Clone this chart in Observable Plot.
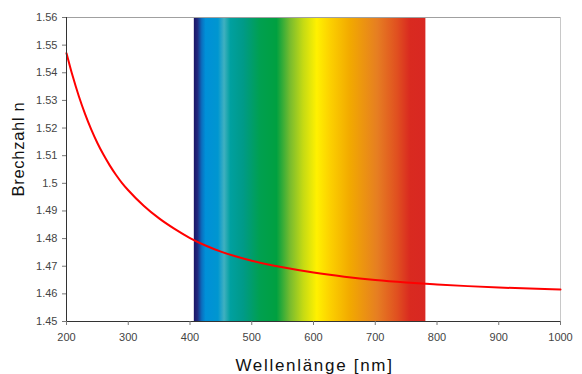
<!DOCTYPE html>
<html>
<head>
<meta charset="utf-8">
<script src="https://cdn.jsdelivr.net/npm/d3@7"></script>
<script src="https://cdn.jsdelivr.net/npm/@observablehq/plot@0.6"></script>
<style>
  html, body { margin: 0; padding: 0; background: #fff; }
  svg { display: block; }
</style>
</head>
<body>
<div id="chart"></div>
<script>
// Wavelength (nm) and refractive index
const wavelengths = [200, 210, 220, 230, 240, 250, 260, 270, 280, 290, 300, 325, 350, 375, 400, 425, 450, 475, 500, 550, 600, 650, 700, 750, 800, 850, 900, 950, 1000];
const indices = [1.5471, 1.5388, 1.5315, 1.5251, 1.5195, 1.5146, 1.5103, 1.5065, 1.5031, 1.5001, 1.4975, 1.4919, 1.4873, 1.4835, 1.4802, 1.4775, 1.4753, 1.4735, 1.4720, 1.4696, 1.4677, 1.4662, 1.4650, 1.4641, 1.4634, 1.4628, 1.4623, 1.4619, 1.4616];

const xTicks = [200, 300, 400, 500, 600, 700, 800, 900, 1000];
const yTicks = [1.45, 1.46, 1.47, 1.48, 1.49, 1.5, 1.51, 1.52, 1.53, 1.54, 1.55, 1.56];
const yTickLabels = ["1.45", "1.46", "1.47", "1.48", "1.49", "1.5", "1.51", "1.52", "1.53", "1.54", "1.55", "1.56"];

// visible spectrum band
const spectrumRange = [407, 782];
const spectrumStopNm = [407, 413, 420, 426, 446, 456, 466, 487, 514, 541, 563, 584, 606, 628, 660, 704, 736, 757, 782];
const spectrumStopColors = ["#1b1464", "#202a80", "#0a70c0", "#0090d8", "#0096d0", "#40b0c0", "#00a0a0", "#009a88", "#00a050", "#00a040", "#78bc2e", "#c4da14", "#fff100", "#fcd000", "#f2a900", "#e67e22", "#e05020", "#d92a20", "#d82822"];

const xLabel = "Wellenlänge [nm]";
const yLabel = "Brechzahl n";

const curve = wavelengths.map((w, i) => ({w, n: indices[i]}));
const band = [{x1: spectrumRange[0], x2: spectrumRange[1]}];

const chart = Plot.plot({
  width: 582,
  height: 374,
  marginLeft: 66,
  marginRight: 22,
  marginTop: 17,
  marginBottom: 53,
  style: {fontFamily: "'Liberation Sans', Arial, sans-serif", fontSize: "11px", background: "#fff", color: "#333"},
  x: {domain: [200, 1000]},
  y: {domain: [1.45, 1.56]},
  marks: [
    Plot.rect(band, {x1: "x1", x2: "x2", fill: "url(#spectrum)"}),
    Plot.ruleY([1.56], {stroke: "#a0a0a0", strokeWidth: 1}),
    Plot.ruleX([1000], {stroke: "#c8c8c8", strokeWidth: 1}),
    Plot.line(curve, {x: "w", y: "n", stroke: "#ff0000", strokeWidth: 2, curve: "monotone-x"}),
    Plot.ruleX([200], {stroke: "#333", strokeWidth: 1}),
    Plot.ruleY([1.45], {stroke: "#333", strokeWidth: 1}),
    Plot.axisX({ticks: xTicks, tickSize: 4, tickPadding: 8, label: null, stroke: "#777", fill: "#444", tickFormat: d => String(d)}),
    Plot.axisY({ticks: yTicks, tickSize: 4, tickPadding: 5, label: null, stroke: "#777", fill: "#444", tickFormat: d => yTickLabels[yTicks.indexOf(d)]}),
    Plot.text([xLabel], {frameAnchor: "bottom", textAnchor: "middle", lineAnchor: "middle", dx: 1, dy: 44.5, fontSize: 17, fill: "#111"}),
    Plot.text([yLabel], {frameAnchor: "left", textAnchor: "middle", lineAnchor: "middle", rotate: -90, dx: -48, dy: -20.5, fontSize: 16.5, fill: "#111"})
  ]
});

// gradient definition for the spectrum band, positioned with the x scale
const xs = chart.scale("x");
const svg = d3.select(chart.tagName.toLowerCase() === "svg" ? chart : chart.querySelector("svg"));
const grad = svg.insert("defs", ":first-child")
  .append("linearGradient")
  .attr("id", "spectrum")
  .attr("gradientUnits", "userSpaceOnUse")
  .attr("x1", xs.apply(spectrumRange[0]))
  .attr("x2", xs.apply(spectrumRange[1]))
  .attr("y1", 0)
  .attr("y2", 0);
spectrumStopNm.forEach((nm, i) => {
  grad.append("stop")
    .attr("offset", (nm - spectrumRange[0]) / (spectrumRange[1] - spectrumRange[0]))
    .attr("stop-color", spectrumStopColors[i]);
});

// letter spacing of the axis titles
svg.selectAll("text").each(function() {
  const t = this.textContent;
  if (t === xLabel) d3.select(this).attr("letter-spacing", "1.7px");
  if (t === yLabel) d3.select(this).attr("letter-spacing", "0.7px");
});

document.getElementById("chart").appendChild(chart);
</script>
</body>
</html>
